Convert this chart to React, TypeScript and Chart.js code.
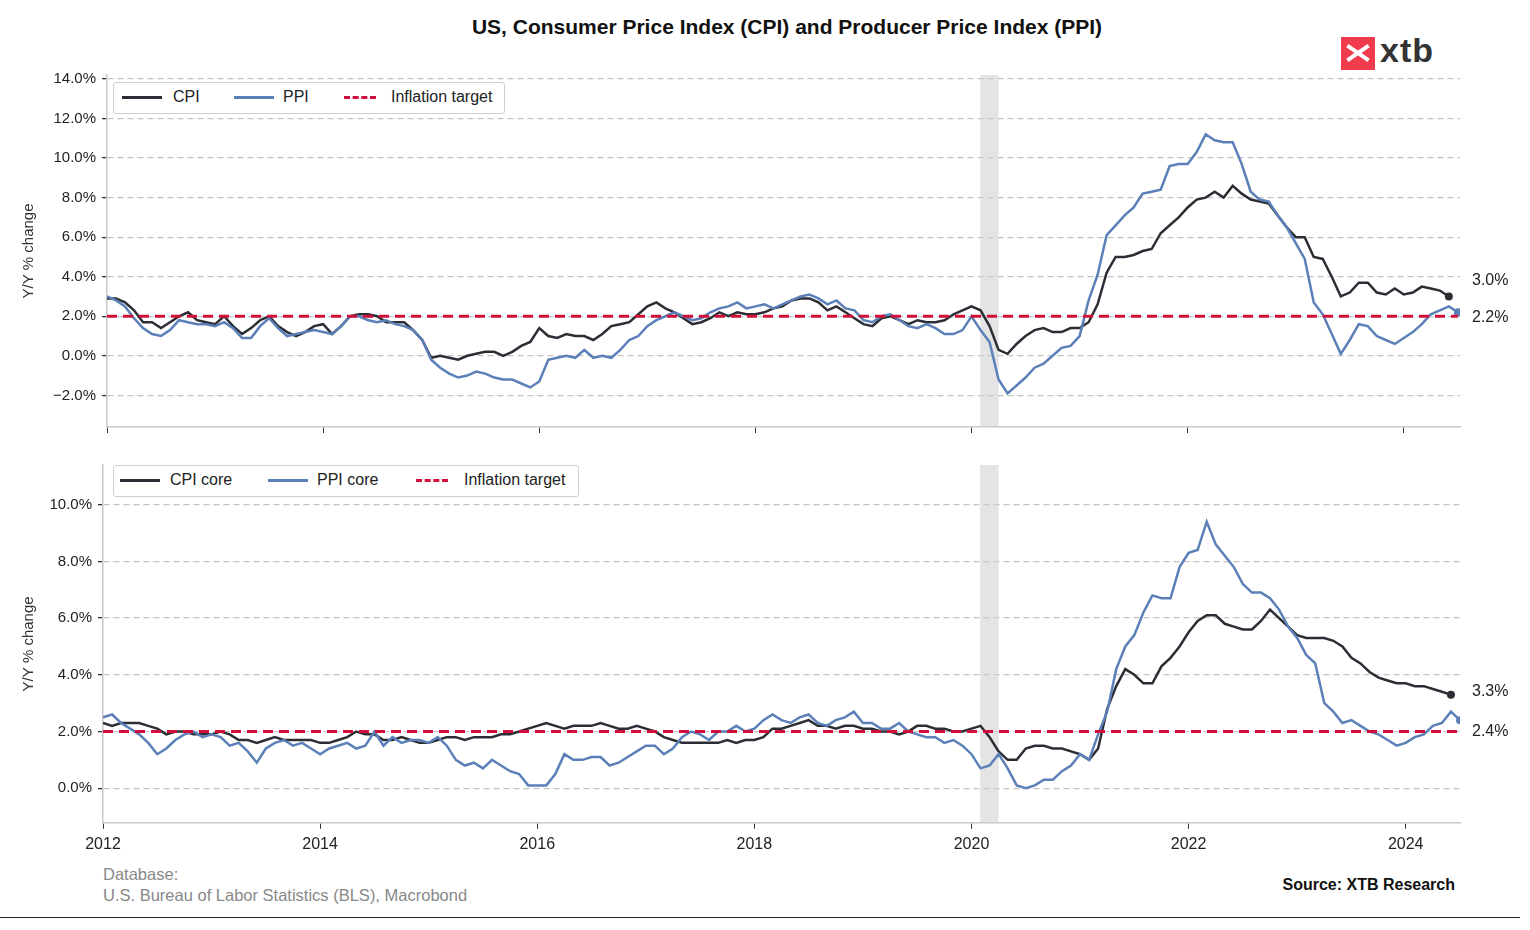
import React, { useEffect, useRef } from 'react';
import Chart from 'chart.js/auto';

// monthly series, Jan 2012 onwards
const cpi = [
  2.9, 2.9, 2.7, 2.3, 1.7, 1.7, 1.4, 1.7, 2.0, 2.2, 1.8, 1.7,
  1.6, 2.0, 1.5, 1.1, 1.4, 1.8, 2.0, 1.5, 1.2, 1.0, 1.2, 1.5,
  1.6, 1.1, 1.5, 2.0, 2.1, 2.1, 2.0, 1.7, 1.7, 1.7, 1.3, 0.8,
  -0.1, 0.0, -0.1, -0.2, 0.0, 0.1, 0.2, 0.2, 0.0, 0.2, 0.5, 0.7,
  1.4, 1.0, 0.9, 1.1, 1.0, 1.0, 0.8, 1.1, 1.5, 1.6, 1.7, 2.1,
  2.5, 2.7, 2.4, 2.2, 1.9, 1.6, 1.7, 1.9, 2.2, 2.0, 2.2, 2.1,
  2.1, 2.2, 2.4, 2.5, 2.8, 2.9, 2.9, 2.7, 2.3, 2.5, 2.2, 1.9,
  1.6, 1.5, 1.9, 2.0, 1.8, 1.6, 1.8, 1.7, 1.7, 1.8, 2.1, 2.3,
  2.5, 2.3, 1.5, 0.3, 0.1, 0.6, 1.0, 1.3, 1.4, 1.2, 1.2, 1.4,
  1.4, 1.7, 2.6, 4.2, 5.0, 5.0, 5.1, 5.3, 5.4, 6.2, 6.6, 7.0,
  7.5, 7.9, 8.0, 8.3, 8.0, 8.6, 8.2, 7.9, 7.8, 7.7, 7.1, 6.5,
  6.0, 6.0, 5.0, 4.9, 4.0, 3.0, 3.2, 3.7, 3.7, 3.2, 3.1, 3.4,
  3.1, 3.2, 3.5, 3.4, 3.3, 3.0,
];
const ppi = [
  3.0, 2.8, 2.5, 1.9, 1.4, 1.1, 1.0, 1.3, 1.8, 1.7, 1.6, 1.6,
  1.5, 1.7, 1.4, 0.9, 0.9, 1.5, 1.9, 1.4, 1.0, 1.1, 1.2, 1.3,
  1.2, 1.1, 1.5, 2.0, 2.0, 1.8, 1.7, 1.8, 1.6, 1.5, 1.3, 0.8,
  -0.2, -0.6, -0.9, -1.1, -1.0, -0.8, -0.9, -1.1, -1.2, -1.2, -1.4, -1.6,
  -1.3, -0.2, -0.1, 0.0, -0.1, 0.3, -0.1, 0.0, -0.1, 0.3, 0.8, 1.0,
  1.5, 1.8, 2.0, 2.2, 2.0, 1.8, 1.9, 2.2, 2.4, 2.5, 2.7, 2.4,
  2.5, 2.6, 2.4, 2.6, 2.8, 3.0, 3.1, 2.9, 2.6, 2.8, 2.4, 2.3,
  1.8, 1.7, 2.0, 2.1, 1.8, 1.5, 1.4, 1.6, 1.4, 1.1, 1.1, 1.3,
  2.0, 1.3, 0.7, -1.2, -1.9, -1.5, -1.1, -0.6, -0.4, 0.0, 0.4, 0.5,
  1.0, 2.8, 4.1, 6.1, 6.6, 7.1, 7.5, 8.2, 8.3, 8.4, 9.6, 9.7,
  9.7, 10.3, 11.2, 10.9, 10.8, 10.8, 9.7, 8.3, 7.9, 7.8, 7.1, 6.5,
  5.7, 4.9, 2.7, 2.1, 1.1, 0.1, 0.8, 1.6, 1.5, 1.0, 0.8, 0.6,
  0.9, 1.2, 1.6, 2.1, 2.3, 2.5, 2.2,
];
const cpiCore = [
  2.3, 2.2, 2.3, 2.3, 2.3, 2.2, 2.1, 1.9, 2.0, 2.0, 1.9, 1.9,
  1.9, 2.0, 1.9, 1.7, 1.7, 1.6, 1.7, 1.8, 1.7, 1.7, 1.7, 1.7,
  1.6, 1.6, 1.7, 1.8, 2.0, 1.9, 1.9, 1.7, 1.7, 1.8, 1.7, 1.6,
  1.6, 1.7, 1.8, 1.8, 1.7, 1.8, 1.8, 1.8, 1.9, 1.9, 2.0, 2.1,
  2.2, 2.3, 2.2, 2.1, 2.2, 2.2, 2.2, 2.3, 2.2, 2.1, 2.1, 2.2,
  2.1, 2.0, 1.8, 1.7, 1.6, 1.6, 1.6, 1.6, 1.6, 1.7, 1.6, 1.7,
  1.7, 1.8, 2.1, 2.1, 2.2, 2.3, 2.4, 2.2, 2.2, 2.1, 2.2, 2.2,
  2.1, 2.1, 2.0, 2.0, 1.9, 2.0, 2.2, 2.2, 2.1, 2.1, 2.0, 2.0,
  2.1, 2.2, 1.8, 1.3, 1.0, 1.0, 1.4, 1.5, 1.5, 1.4, 1.4, 1.3,
  1.2, 1.0, 1.4, 2.8, 3.6, 4.2, 4.0, 3.7, 3.7, 4.3, 4.6, 5.0,
  5.5, 5.9, 6.1, 6.1, 5.8, 5.7, 5.6, 5.6, 5.9, 6.3, 6.0, 5.7,
  5.4, 5.3, 5.3, 5.3, 5.2, 5.0, 4.6, 4.4, 4.1, 3.9, 3.8, 3.7,
  3.7, 3.6, 3.6, 3.5, 3.4, 3.3,
];
const ppiCore = [
  2.5, 2.6, 2.3, 2.1, 1.9, 1.6, 1.2, 1.4, 1.7, 1.9, 2.0, 1.8,
  1.9, 1.8, 1.5, 1.6, 1.3, 0.9, 1.4, 1.6, 1.7, 1.5, 1.6, 1.4,
  1.2, 1.4, 1.5, 1.6, 1.4, 1.5, 2.0, 1.5, 1.8, 1.6, 1.7, 1.7,
  1.6, 1.8, 1.5, 1.0, 0.8, 0.9, 0.7, 1.0, 0.8, 0.6, 0.5, 0.1,
  0.1, 0.1, 0.5, 1.2, 1.0, 1.0, 1.1, 1.1, 0.8, 0.9, 1.1, 1.3,
  1.5, 1.5, 1.2, 1.4, 1.8, 2.0, 1.9, 1.7, 2.0, 2.0, 2.2, 2.0,
  2.1, 2.4, 2.6, 2.4, 2.3, 2.5, 2.6, 2.3, 2.2, 2.4, 2.5, 2.7,
  2.3, 2.3, 2.1, 2.1, 2.3, 2.0, 1.9, 1.8, 1.8, 1.6, 1.7, 1.5,
  1.2, 0.7, 0.8, 1.2, 0.7, 0.1, 0.0, 0.1, 0.3, 0.3, 0.6, 0.8,
  1.2, 1.0, 1.9, 2.7, 4.2, 5.0, 5.4, 6.2, 6.8, 6.7, 6.7, 7.8,
  8.3, 8.4, 9.4, 8.6, 8.2, 7.8, 7.2, 6.9, 6.9, 6.7, 6.3, 5.7,
  5.3, 4.7, 4.4, 3.0, 2.7, 2.3, 2.4, 2.2, 2.0, 1.9, 1.7, 1.5,
  1.6, 1.8, 1.9, 2.2, 2.3, 2.7, 2.4,
];
const inflationTarget = 2;
const startYear = 2012;
const yearTicks = [2012, 2014, 2016, 2018, 2020, 2022, 2024];
const topYTicks = [-2, 0, 2, 4, 6, 8, 10, 12, 14];
const bottomYTicks = [0, 2, 4, 6, 8, 10];
const recession = [2020.08, 2020.25];

const toPoints = (vals: number[]) => vals.map((v, i) => ({ x: startYear + i / 12, y: v }));

const FONT = 'Arial, "Liberation Sans", sans-serif';

const bandPlugin = {
  id: 'band',
  beforeDatasetsDraw(chart: any) {
    const { ctx, chartArea, scales } = chart;
    const x0 = scales.x.getPixelForValue(recession[0]);
    const x1 = scales.x.getPixelForValue(recession[1]);
    ctx.save();
    ctx.fillStyle = 'rgba(205,205,205,0.55)';
    ctx.fillRect(x0, chartArea.top, x1 - x0, chartArea.bottom - chartArea.top);
    ctx.restore();
  },
};

const endLabelPlugin = {
  id: 'endLabels',
  afterDatasetsDraw(chart: any) {
    const { ctx, chartArea, scales } = chart;
    ctx.save();
    ctx.font = `16px ${FONT}`;
    ctx.fillStyle = '#222';
    ctx.textBaseline = 'middle';
    chart.data.datasets.forEach((ds: any) => {
      if (ds.endLabelOffset === undefined) return;
      const last = ds.data[ds.data.length - 1];
      const y = scales.y.getPixelForValue(last.y) + ds.endLabelOffset;
      ctx.fillText(last.y.toFixed(1) + '%', chartArea.right + 12, y);
    });
    ctx.restore();
  },
};

interface PanelProps {
  a: number[];
  b: number[];
  yMin: number;
  yMax: number;
  yTicks: number[];
  xMax: number;
  showX: boolean;
  leftW: number;
  padTop: number;
  offs: [number, number];
}

const Panel: React.FC<PanelProps> = ({ a, b, yMin, yMax, yTicks, xMax, showX, leftW, padTop, offs }) => {
  const ref = useRef<HTMLCanvasElement>(null);

  useEffect(() => {
    if (!ref.current) return;
    const lastR = (ctx: any) => (ctx.dataIndex === ctx.dataset.data.length - 1 ? 4 : 0);
    const chart = new Chart(ref.current, {
      type: 'line',
      data: {
        datasets: [
          {
            data: [{ x: startYear, y: inflationTarget }, { x: xMax - 0.02, y: inflationTarget }],
            borderColor: '#d0103a',
            borderWidth: 3,
            borderDash: [10, 6],
            pointRadius: 0,
          },
          {
            data: toPoints(b),
            borderColor: '#5b80b8',
            backgroundColor: '#5b80b8',
            borderWidth: 2.5,
            pointRadius: lastR,
            pointBorderWidth: 0,
            endLabelOffset: offs[1],
          } as any,
          {
            data: toPoints(a),
            borderColor: '#2c2e35',
            backgroundColor: '#2c2e35',
            borderWidth: 2.5,
            pointRadius: lastR,
            pointBorderWidth: 0,
            endLabelOffset: offs[0],
          } as any,
        ],
      },
      options: {
        animation: false,
        responsive: false,
        layout: { padding: { top: padTop, right: 70, left: 20, bottom: 0 } },
        plugins: { legend: { display: false }, tooltip: { enabled: false } },
        scales: {
          x: {
            type: 'linear',
            min: startYear,
            max: xMax,
            afterBuildTicks: (s: any) => {
              s.ticks = yearTicks.map((v) => ({ value: v }));
            },
            ticks: {
              display: showX,
              color: '#222',
              font: { family: FONT, size: 16 },
              callback: (v: any) => String(v),
              maxRotation: 0,
              padding: 6,
            },
            grid: { drawOnChartArea: false, drawTicks: true, tickLength: 6, tickColor: '#333' },
            border: { color: '#c8c8c8', width: 1.5 },
            afterFit: (s: any) => {
              if (!showX) s.height = 8;
            },
          },
          y: {
            min: yMin,
            max: yMax,
            afterBuildTicks: (s: any) => {
              s.ticks = yTicks.map((v) => ({ value: v }));
            },
            ticks: {
              color: '#222',
              font: { family: FONT, size: 15 },
              callback: (v: any) => Number(v).toFixed(1).replace('-', '\u2212') + '%',
              padding: 6,
            },
            grid: {
              color: '#c4c4c4',
              lineWidth: 1.3,
              tickColor: '#333',
              tickLength: 5,
            },
            border: { color: '#c8c8c8', width: 1.5, dash: [6, 4] },
            title: {
              display: true,
              text: 'Y/Y % change',
              color: '#333',
              font: { family: FONT, size: 15 },
              padding: 0,
            },
            afterFit: (s: any) => {
              s.width = leftW - 20;
            },
          },
        },
      },
      plugins: [bandPlugin, endLabelPlugin],
    });
    return () => chart.destroy();
  }, []);

  return <canvas ref={ref} width={1530} height={showX ? 410 : 382} />;
};

const LegendBox: React.FC<{ left: number; top: number; w: number; items: [string, number, number][] }> = ({
  left,
  top,
  w,
  items,
}) => (
  <div
    style={{
      position: 'absolute',
      left,
      top,
      width: w,
      height: 30,
      border: '1px solid #cfcfcf',
      borderRadius: 3,
      background: 'white',
      fontFamily: FONT,
      fontSize: 16,
      color: '#222',
    }}
  >
    {items.map(([label, lx, tx], i) => (
      <React.Fragment key={label}>
        <div
          style={{
            position: 'absolute',
            left: lx,
            top: 13,
            width: i === 2 ? 32 : 40,
            height: 0,
            borderTop:
              i === 2 ? '3px dashed #d0103a' : `3px solid ${i === 0 ? '#2c2e35' : '#5b80b8'}`,
          }}
        />
        <div style={{ position: 'absolute', left: tx, top: 5 }}>{label}</div>
      </React.Fragment>
    ))}
  </div>
);

export default function App() {
  return (
    <div style={{ position: 'absolute', left: 0, top: 0, width: 1530, height: 930, background: 'white' }}>
      <div
        style={{
          position: 'absolute',
          left: 0,
          width: 1574,
          top: 15,
          textAlign: 'center',
          fontFamily: FONT,
          fontWeight: 'bold',
          fontSize: 21,
          color: '#111',
        }}
      >
        US, Consumer Price Index (CPI) and Producer Price Index (PPI)
      </div>
      <div style={{ position: 'absolute', left: 1341, top: 37, width: 34, height: 33, background: '#ef3b4c' }}>
        <div style={{ position: 'absolute', left: 4, top: 14, width: 26, height: 4, background: 'white', transform: 'rotate(35deg)' }} />
        <div style={{ position: 'absolute', left: 4, top: 14, width: 26, height: 4, background: 'white', transform: 'rotate(-35deg)' }} />
      </div>
      <div
        style={{
          position: 'absolute',
          left: 1380,
          top: 31,
          fontFamily: FONT,
          fontWeight: 'bold',
          fontSize: 34,
          color: '#333',
          letterSpacing: 1,
        }}
      >
        xtb
      </div>
      <div style={{ position: 'absolute', left: 0, top: 60 }}>
        <Panel a={cpi} b={ppi} yMin={-3.6} yMax={14.2} yTicks={topYTicks} xMax={2024.52} showX={false} leftW={107} padTop={15} offs={[-16, 5]} />
      </div>
      <div style={{ position: 'absolute', left: 0, top: 450 }}>
        <Panel a={cpiCore} b={ppiCore} yMin={-1.22} yMax={11.4} yTicks={bottomYTicks} xMax={2024.5} showX={true} leftW={103} padTop={12} offs={[-3, 11]} />
      </div>
      <LegendBox
        left={113}
        top={82}
        w={390}
        items={[
          ['CPI', 8, 59],
          ['PPI', 120, 169],
          ['Inflation target', 230, 277],
        ]}
      />
      <LegendBox
        left={113}
        top={465}
        w={464}
        items={[
          ['CPI core', 6, 56],
          ['PPI core', 154, 203],
          ['Inflation target', 302, 350],
        ]}
      />
      <div
        style={{
          position: 'absolute',
          left: 103,
          top: 864,
          fontFamily: FONT,
          fontSize: 16.5,
          color: '#888',
          lineHeight: '21px',
        }}
      >
        Database:
        <br />
        U.S. Bureau of Labor Statistics (BLS), Macrobond
      </div>
      <div
        style={{
          position: 'absolute',
          right: 75,
          top: 876,
          fontFamily: FONT,
          fontSize: 16,
          fontWeight: 'bold',
          color: '#111',
        }}
      >
        Source: XTB Research
      </div>
      <div style={{ position: 'absolute', left: 0, top: 917, width: 1520, height: 1, background: '#222' }} />
    </div>
  );
}
